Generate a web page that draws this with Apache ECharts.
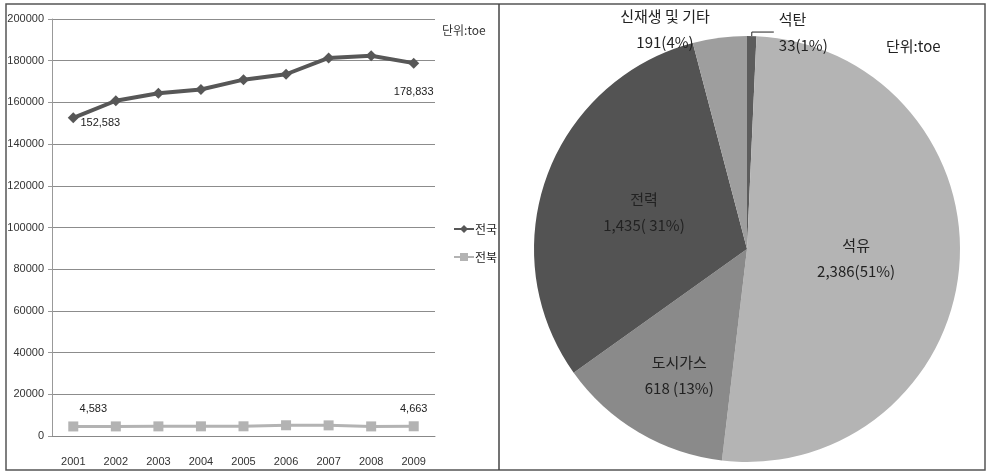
<!DOCTYPE html>
<html>
<head>
<meta charset="utf-8">
<script src="https://cdn.jsdelivr.net/npm/echarts@6/dist/echarts.min.js"></script>
<style>
  html, body { margin: 0; padding: 0; background: #fff; }
  #main { width: 990px; height: 476px; }
</style>
</head>
<body>
<div id="main"></div>
<script>
// 연도별 소비량 (왼쪽 꺾은선)
const years = ['2001', '2002', '2003', '2004', '2005', '2006', '2007', '2008', '2009']
const nationValues = [152583, 160800, 164400, 166200, 170900, 173500, 181300, 182400, 178833]
const jeonbukValues = [4583, 4600, 4620, 4640, 4650, 5150, 5100, 4600, 4663]
const seriesNames = ['전국', '전북']

// 에너지원별 (오른쪽 원그래프)
const pieNames = ['석탄', '석유', '도시가스', '전력', '신재생 및 기타']
const pieValues = [33, 2386, 618, 1435, 191]
const pieLabels = ['33(1%)', '2,386(51%)', '618 (13%)', '1,435( 31%)', '191(4%)']

const pieColors = ['#5c5c5c', '#b4b4b4', '#8a8a8a', '#535353', '#9e9e9e']
const krFont = '"Noto Sans CJK KR", "Liberation Sans", sans-serif'

let chart = echarts.init(document.getElementById('main'))

let pieData = pieNames.map(function (name, i) {
  let item = { name: name, value: pieValues[i], itemStyle: { color: pieColors[i] } }
  if (i === 0) {
    item.label = { position: 'outside' }
    item.labelLine = { show: true, length: 4, length2: 22, lineStyle: { color: '#222', width: 1 } }
  } else if (i === 4) {
    item.label = { position: 'outside' }
    item.labelLine = { show: false }
  }
  return item
})

// 처음과 마지막 값만 표시
function endLabel(p) {
  return (p.dataIndex === 0 || p.dataIndex === years.length - 1) ? p.value.toLocaleString('en-US') : ''
}

let option = {
  animation: false,
  textStyle: { fontFamily: krFont },
  graphic: [
    { type: 'rect', shape: { x: 6, y: 4, width: 979, height: 466 }, style: { fill: 'none', stroke: '#555', lineWidth: 1.5 } },
    { type: 'line', shape: { x1: 499, y1: 4, x2: 499, y2: 470 }, style: { stroke: '#444', lineWidth: 1.5 } },
    { type: 'text', left: 442, top: 24, style: { text: '단위:toe', fontSize: 12, fill: '#333', fontFamily: krFont } },
    { type: 'text', left: 886, top: 39, style: { text: '단위:toe', fontSize: 15, fill: '#222', fontFamily: krFont } }
  ],
  legend: {
    orient: 'vertical',
    left: 448,
    top: 218,
    itemWidth: 20,
    itemHeight: 10,
    itemGap: 16,
    data: seriesNames,
    textStyle: { fontSize: 12, color: '#222', padding: [0, 0, 0, -4] }
  },
  grid: { left: 52, right: 555, top: 19, bottom: 40 },
  xAxis: {
    type: 'category',
    data: years,
    boundaryGap: true,
    axisLine: { lineStyle: { color: '#888' } },
    axisTick: { show: false },
    axisLabel: { margin: 20, fontSize: 11, color: '#333', fontFamily: 'Liberation Sans' }
  },
  yAxis: {
    type: 'value',
    min: 0,
    max: 200000,
    interval: 20000,
    axisLine: { show: true, lineStyle: { color: '#999' } },
    axisTick: { show: true, length: 4, lineStyle: { color: '#999' } },
    axisLabel: {
      margin: 8, fontSize: 11, color: '#333', fontFamily: 'Liberation Sans',
      formatter: function (v) { return String(v) }
    },
    splitLine: { lineStyle: { color: '#8c8c8c' } }
  },
  series: [
    {
      name: seriesNames[0],
      type: 'line',
      data: nationValues,
      symbol: 'diamond',
      symbolSize: 11,
      color: '#575757',
      lineStyle: { width: 4 },
      label: {
        show: true,
        fontSize: 11,
        color: '#222',
        fontFamily: 'Liberation Sans',
        formatter: endLabel,
        position: 'bottom',
        distance: 18,
        offset: [-7, 0]
      },
      labelLayout: function (p) {
        if (p.dataIndex === 0) return { dx: 27, dy: -24 }
        return {}
      }
    },
    {
      name: seriesNames[1],
      type: 'line',
      data: jeonbukValues,
      symbol: 'rect',
      symbolSize: 10,
      color: '#b3b3b3',
      lineStyle: { width: 3 },
      label: {
        show: true,
        fontSize: 11,
        color: '#222',
        fontFamily: 'Liberation Sans',
        formatter: endLabel,
        position: 'top',
        distance: 7
      },
      labelLayout: function (p) {
        if (p.dataIndex === 0) return { dx: 20 }
        return {}
      }
    },
    {
      type: 'pie',
      center: [747, 249],
      radius: [0, 213],
      startAngle: 90,
      clockwise: true,
      avoidLabelOverlap: false,
      data: pieData,
      label: {
        show: true,
        position: 'inside',
        fontSize: 15,
        lineHeight: 26,
        color: '#222',
        fontFamily: krFont,
        formatter: function (p) {
          return p.name + '\n' + pieLabels[p.dataIndex]
        }
      },
      labelLayout: function (p) {
        if (p.dataIndex === 2) return { dx: -12, dy: 32 }
        if (p.dataIndex === 4) return { x: 665, y: 29, align: 'center', verticalAlign: 'middle' }
        return {}
      }
    }
  ]
}

chart.setOption(option)
</script>
</body>
</html>
